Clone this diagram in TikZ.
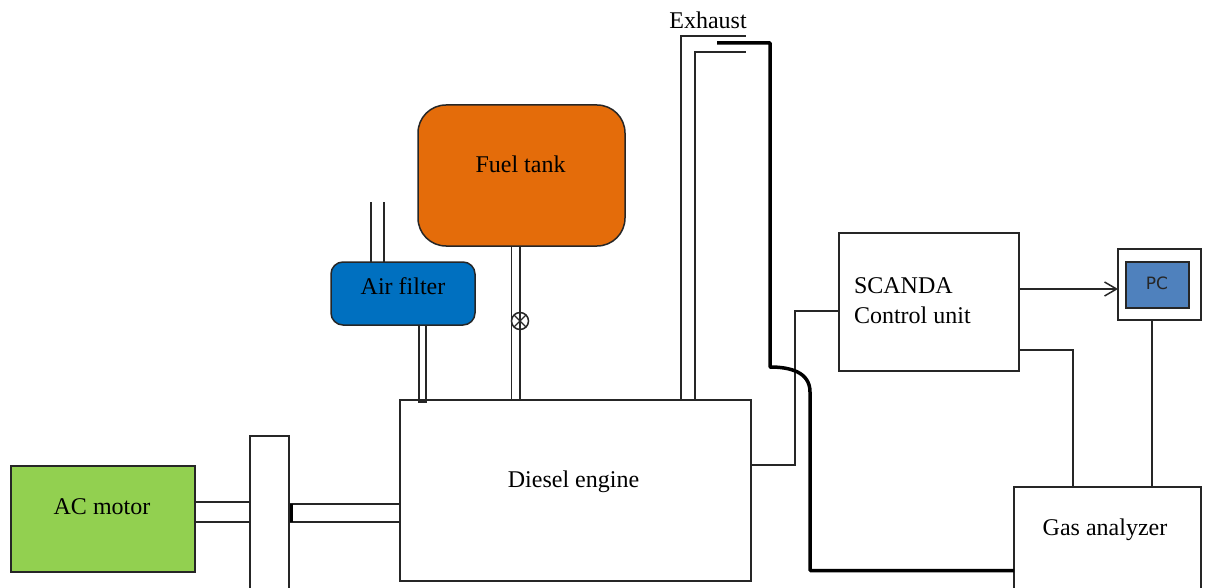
\documentclass[tikz,border=0pt]{standalone}
\usepackage{fontspec}
\setmainfont{Liberation Serif}
\newfontfamily\pcfont{DejaVu Sans}
\usetikzlibrary{arrows.meta,shapes.misc}
\definecolor{motorgreen}{RGB}{146,208,80}
\definecolor{filterblue}{RGB}{0,112,192}
\definecolor{tankorange}{RGB}{228,108,10}
\definecolor{pcblue}{RGB}{79,129,189}
\tikzset{
  x=1pt,y=-1pt,
  every node/.style={inner sep=0pt,outer sep=0pt},
  wire/.style={line width=1.5pt,draw=black!85},
  hose/.style={line width=3.5pt,draw=black,line join=round},
  box/.style={wire,draw,rectangle,minimum width=#1},
  tall/.style={minimum height=#1},
  caption/.style={font=\fontsize{24}{28}\selectfont,text=black},
}
\begin{document}
\begin{tikzpicture}
\useasboundingbox (0,0) rectangle (1209,588);
\fill[white] (0,0) rectangle (1209,588);
\clip (0,0) rectangle (1209,588);

% boxes
\node[box=184,tall=106,fill=motorgreen] (motor) at (103,519) {};
\node[box=39,tall=172,fill=white] (wheel) at (269.5,522) {};
\node[box=351,tall=181,fill=white] (engine) at (575.5,490.5) {};
\node[box=144,tall=63,rounded corners=12pt,fill=filterblue] (filter) at (403,293.5) {};
\node[box=207,tall=141,rounded corners=28pt,fill=tankorange] (tank) at (521.5,175.5) {};
\node[box=180,tall=138,fill=white] (scanda) at (929,302) {};
\node[box=83,tall=71,fill=white] (pcframe) at (1159.5,284.5) {};
\node[box=63,tall=46,fill=pcblue] (pc) at (1157.5,285) {};
\node[box=187,tall=121,fill=white] (gas) at (1107.5,547.5) {};

% labels
\node[caption] (motortext) at (102,507) {AC motor};
\node[caption] (filtertext) at (403,286) {Air filter};
\node[caption] (tanktext) at (520.5,164) {Fuel tank};
\node[caption] (enginetext) at (573.5,482) {Diesel engine};
\node[caption] (exhausttext) at (708,20) {Exhaust};
\node[caption,anchor=base west] (scandatext) at (854,293) {SCANDA};
\node[caption,anchor=base west] (controltext) at (854,323) {Control unit};
\node[caption] (gastext) at (1105,530) {Gas analyzer};
\node[font=\pcfont\fontsize{17}{20}\selectfont,text=black!85] (pctext) at (1157,283) {PC};

% free ends
\coordinate (intakeL) at (371,202);
\coordinate (intakeR) at (384,202);
\coordinate (outerEnd) at (746,36);
\coordinate (innerEnd) at (746,52);
\coordinate (hoseStart) at (717,43);

% motor shaft and engine shaft
\draw[wire] ([yshift=17pt]motor.east) -- ([yshift=20pt]wheel.west);
\draw[wire] ([yshift=-3pt]motor.east) -- ([yshift=0pt]wheel.west);
\draw[wire] ([yshift=18pt]wheel.east) -- ([yshift=-13.5pt]engine.west);
\draw[wire] ([yshift=0pt]wheel.east) -- ([yshift=-31.5pt]engine.west);
\draw[line width=3pt] ([xshift=2pt,yshift=18pt]wheel.east) -- ([xshift=2pt]wheel.east);

% air pipes
\draw[wire] (intakeL) -- (intakeL |- filter.north);
\draw[wire] (intakeR) -- (intakeR |- filter.north);
\draw[wire] ([xshift=16pt]filter.south) -- ++(0,77) -- ++(7,0) -- ([xshift=23pt]filter.south);

% fuel line with valve
\draw[wire] ([xshift=-10pt]tank.south) -- ([xshift=-64pt]engine.north);
\draw[wire] ([xshift=-1.5pt]tank.south) -- ([xshift=-55.5pt]engine.north);
\node[draw=black!85,line width=1.2pt,fill=white,circle,cross out,minimum size=12pt] (valvecross) at (520,321) {};
\node[draw=black!85,line width=1.5pt,circle,minimum size=17pt] (valve) at (520,321) {};

% exhaust
\draw[wire] ([xshift=105.5pt]engine.north) |- (outerEnd);
\draw[wire] ([xshift=119.5pt]engine.north) |- (innerEnd);

% signal connectors
\draw[wire] ([yshift=25.5pt]engine.east) -| (795,311) -- ([yshift=-9pt]scanda.west);
\draw[wire,-{Straight Barb[length=12pt,width=14pt]}] ([yshift=13pt]scanda.east) -- ([yshift=-4.5pt]pcframe.west);
\draw[wire] ([yshift=-48pt]scanda.east) -| ([xshift=-34.5pt]gas.north);
\draw[wire] ([xshift=-7.5pt]pcframe.south) -- ([xshift=44.5pt]gas.north);

% sampling hose
\draw[hose] (hoseStart) -| (770,367) .. controls (790,367) and (810,372) .. (810,392) |- ([yshift=-23pt]gas.west);
\end{tikzpicture}
\end{document}
